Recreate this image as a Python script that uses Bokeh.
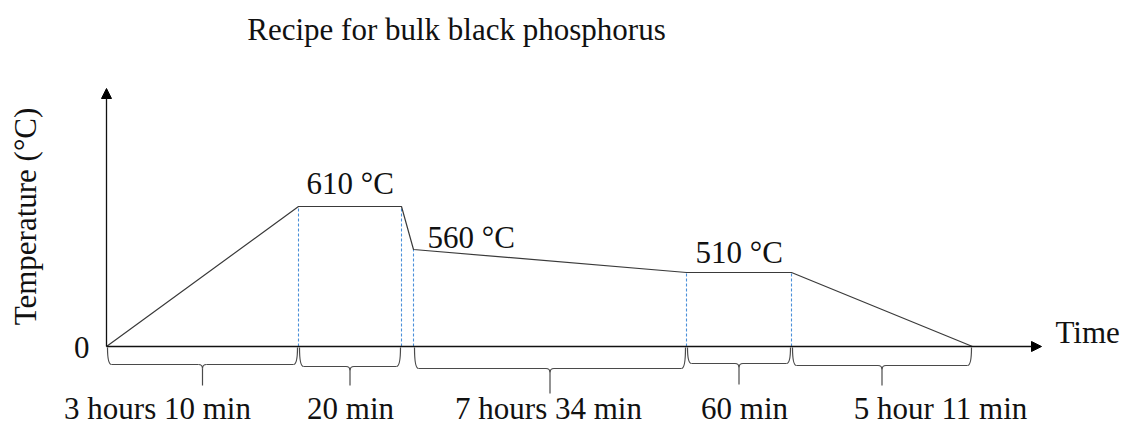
from bokeh.plotting import figure
from bokeh.models import Range1d, Arrow, NormalHead
from bokeh.core.properties import value
from bokeh.embed import file_html
from bokeh.resources import INLINE

# ---------------- data (schematic recipe) ----------------
title_text = "Recipe for bulk black phosphorus"
x_axis_label = "Time"
y_axis_label = "Temperature (°C)"
y_tick_label = "0"
# schematic profile breakpoints: time position (schematic units) / drawn level
profile_t = [0, 192, 295, 307, 580, 685, 866]
profile_h = [0, 140, 140, 97, 74, 74, 0]
temp_labels = ["610 °C", "560 °C", "510 °C"]
stage_labels = ["3 hours 10 min", "20 min", "7 hours 34 min", "60 min", "5 hour 11 min"]
stage_start = [0, 192, 307, 580, 685]
stage_end = [192, 295, 580, 685, 866]

# ---------------- layout / style ----------------
FONT = value("Liberation Serif")
FS = "31px"
DY = 10  # baseline correction for the svg text renderer
temp_label_x = [200, 321, 589]
temp_label_y = [153 + DY, 99 + DY, 84 + DY]
stage_label_x = [51, 244, 442, 638, 834]
stage_label_y = -72 + DY
brace_depth = [18, 20, 22, 17, 19]
brace_tip = [39, 39, 47, 38, 39]
brace_r = 4
brace_gap = 1

p = figure(width=1122, height=426, x_range=Range1d(-106, 1016), y_range=Range1d(-80, 346),
           output_backend="svg", toolbar_location=None, min_border=0,
           x_axis_type=None, y_axis_type=None)
p.grid.visible = False
p.outline_line_color = None
p.background_fill_color = "white"
p.border_fill_color = "white"

# dashed guide lines
inner_t = profile_t[1:-1]
inner_h = profile_h[1:-1]
p.segment(x0=inner_t, y0=[0] * len(inner_t), x1=inner_t, y1=inner_h,
          line_color="#4A90D9", line_width=1.1, line_dash="3 2")

# axes with arrows
p.add_layout(Arrow(end=NormalHead(size=10, fill_color="black", line_color="black"),
                   x_start=0, y_start=0, x_end=0, y_end=258, line_color="#111111", line_width=1.3))
p.add_layout(Arrow(end=NormalHead(size=10, fill_color="black", line_color="black"),
                   x_start=0, y_start=0, x_end=935, y_end=0, line_color="#111111", line_width=1.3))

# profile
p.line(profile_t, profile_h, line_color="#3a3a3a", line_width=1.2)

# braces
qx0, qy0, qcx, qcy, qx1, qy1 = [], [], [], [], [], []
sx0, sy0, sx1, sy1 = [], [], [], []
for a0, b0, d, t in zip(stage_start, stage_end, brace_depth, brace_tip):
    a = a0 + brace_gap
    b = b0 - brace_gap
    m = (a + b) / 2
    r = brace_r
    for (x0, y0, cx, cy, x1, y1) in [
        (a, -1, a, -d, a + r, -d),
        (m - r, -d, m, -d, m, -d - r),
        (m + r, -d, m, -d, m, -d - r),
        (b - r, -d, b, -d, b, -1),
    ]:
        qx0.append(x0); qy0.append(y0); qcx.append(cx); qcy.append(cy); qx1.append(x1); qy1.append(y1)
    for (x0, y0, x1, y1) in [
        (a + r, -d, m - r, -d),
        (m + r, -d, b - r, -d),
        (m, -d - r, m, -t),
    ]:
        sx0.append(x0); sy0.append(y0); sx1.append(x1); sy1.append(y1)
p.quadratic(x0=qx0, y0=qy0, cx=qcx, cy=qcy, x1=qx1, y1=qy1, line_color="#4a4a4a", line_width=1.2)
p.segment(x0=sx0, y0=sy0, x1=sx1, y1=sy1, line_color="#4a4a4a", line_width=1.2)

# texts
common = dict(text_font=FONT, text_font_size=FS, text_color="#111111")
p.text(x=stage_label_x, y=[stage_label_y] * len(stage_labels), text=stage_labels,
       text_align="center", text_baseline="alphabetic", **common)
p.text(x=temp_label_x, y=temp_label_y, text=temp_labels,
       text_align="left", text_baseline="alphabetic", **common)
p.text(x=[350], y=[307 + DY], text=[title_text], text_align="center", text_baseline="alphabetic", **common)
p.text(x=[949], y=[4 + DY], text=[x_axis_label], text_align="left", text_baseline="alphabetic", **common)
p.text(x=[-17], y=[-11 + DY], text=[y_tick_label], text_align="right", text_baseline="alphabetic", **common)
p.text(x=[-71 - DY], y=[130], text=[y_axis_label], angle=1.5708, text_align="center",
       text_baseline="alphabetic", **common)

open("out.html", "w").write(file_html(p, INLINE))
